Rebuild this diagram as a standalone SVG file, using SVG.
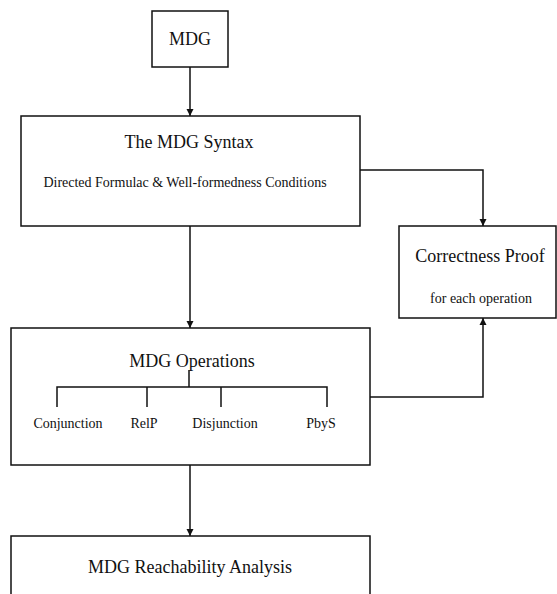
<svg xmlns="http://www.w3.org/2000/svg" width="557" height="594" viewBox="0 0 557 594">
<style>
.box{fill:#fff;stroke:#111;stroke-width:1.5}
.ln{fill:none;stroke:#111;stroke-width:1.5}
.t18{font-family:"Liberation Serif",serif;font-size:18px;fill:#111;text-anchor:middle}
.t14{font-family:"Liberation Serif",serif;font-size:14px;fill:#111;text-anchor:middle}
</style>
<defs>
<marker id="arr" viewBox="0 0 10 10" refX="10" refY="5" markerWidth="7" markerHeight="9" markerUnits="userSpaceOnUse" orient="auto">
<path d="M0,0 L10,5 L0,10 Z" fill="#111"/>
</marker>
</defs>
<rect width="557" height="594" fill="#fff"/>
<g id="connectors">
<line class="ln" x1="190" y1="67" x2="190" y2="116" marker-end="url(#arr)"/>
<line class="ln" x1="190" y1="226" x2="190" y2="328" marker-end="url(#arr)"/>
<polyline class="ln" points="360,170 483,170 483,226" marker-end="url(#arr)"/>
<polyline class="ln" points="370,397 483,397 483,318" marker-end="url(#arr)"/>
<line class="ln" x1="190" y1="465" x2="190" y2="536" marker-end="url(#arr)"/>
</g>
<g id="mdg">
<rect class="box" x="152" y="11" width="76" height="56"/>
<text class="t18" x="190" y="45">MDG</text>
</g>
<g id="syntax">
<rect class="box" x="21" y="116" width="339" height="110"/>
<text class="t18" x="189" y="148">The MDG Syntax</text>
<text class="t14" x="185" y="187">Directed Formulac &amp; Well-formedness Conditions</text>
</g>
<g id="correctness">
<rect class="box" x="399" y="226" width="157" height="92"/>
<text class="t18" x="480" y="262">Correctness Proof</text>
<text class="t14" x="481" y="303">for each operation</text>
</g>
<g id="operations">
<rect class="box" x="11" y="328" width="359" height="137"/>
<text class="t18" x="192" y="367">MDG Operations</text>
<polyline class="ln" points="189,370 189,387"/>
<polyline class="ln" points="57,407 57,387 327,387 327,407"/>
<line class="ln" x1="147" y1="387" x2="147" y2="407"/>
<line class="ln" x1="221" y1="387" x2="221" y2="407"/>
<text class="t14" x="68" y="428">Conjunction</text>
<text class="t14" x="144" y="428">RelP</text>
<text class="t14" x="225" y="428">Disjunction</text>
<text class="t14" x="321" y="428">PbyS</text>
</g>
<g id="reachability">
<polyline class="box" points="11,600 11,536 370,536 370,600"/>
<text class="t18" x="190" y="573">MDG Reachability Analysis</text>
</g>
</svg>
